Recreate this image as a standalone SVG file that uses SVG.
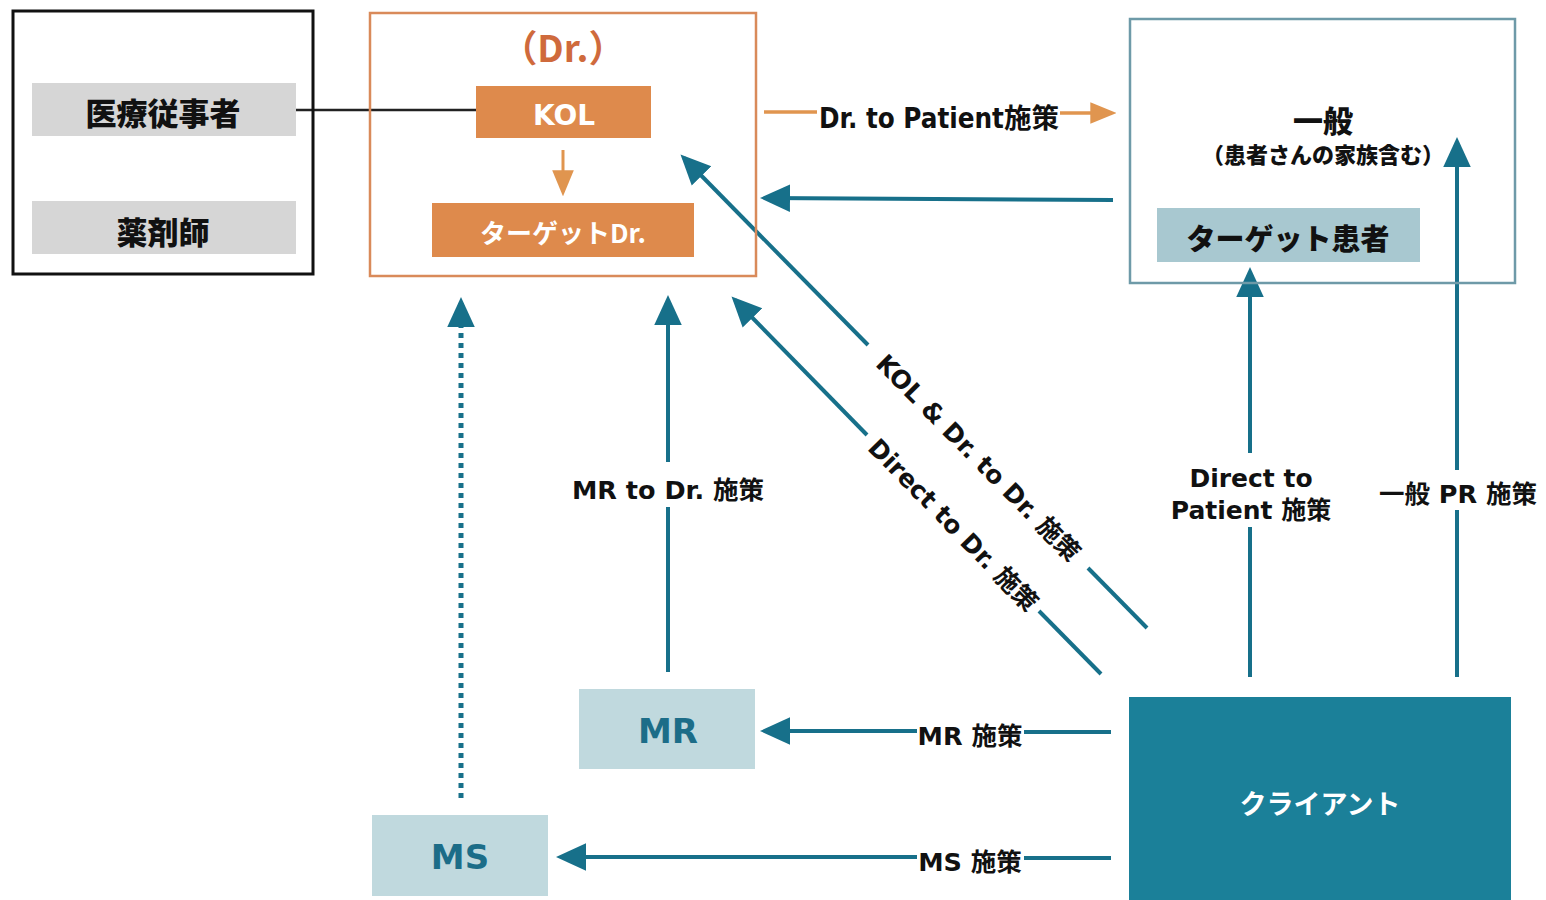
<svg xmlns="http://www.w3.org/2000/svg" width="1546" height="900" viewBox="0 0 1546 900">
<defs>
<style>
.lbl{font-family:"DejaVu Sans","Noto Sans CJK JP",sans-serif;font-weight:bold;fill:#111;text-anchor:middle;dominant-baseline:central}
.jp{font-family:"Noto Sans CJK JP",sans-serif;font-weight:900;text-anchor:middle;dominant-baseline:central}
.teal{stroke:#17708a;stroke-width:4;fill:none}
.tealh{stroke:#17708a;stroke-width:4;fill:none;marker-end:url(#ah)}
.gray{fill:#d6d6d6}
.org{fill:#de8a4c}
</style>
<marker id="ah" markerUnits="userSpaceOnUse" markerWidth="30" markerHeight="30" viewBox="0 0 24 24" refX="20" refY="12" orient="auto">
<path d="M0,1 L24,12 L0,23 Z" fill="#17708a"/>
</marker>
<marker id="aho" markerUnits="userSpaceOnUse" markerWidth="26" markerHeight="26" viewBox="0 0 24 24" refX="20" refY="12" orient="auto">
<path d="M0,2 L24,12 L0,22 Z" fill="#e0954f"/>
</marker>
</defs>
<rect width="1546" height="900" fill="#ffffff"/>

<g id="connectors">
<line x1="296" y1="110" x2="477" y2="110" stroke="#222" stroke-width="2.5"/>
<line x1="563" y1="150" x2="563" y2="192" stroke="#e0954f" stroke-width="3" marker-end="url(#aho)"/>
<line x1="764" y1="112" x2="817" y2="112" stroke="#e0954f" stroke-width="3.5"/>
<line x1="1060" y1="113" x2="1112" y2="113" stroke="#e0954f" stroke-width="3.5" marker-end="url(#aho)"/>
<line x1="1113" y1="200" x2="765" y2="198" class="tealh"/>
<line x1="1147" y1="628" x2="1088" y2="568" class="teal"/>
<line x1="868" y1="345" x2="684" y2="158" class="tealh"/>
<line x1="1101" y1="674" x2="1039" y2="611" class="teal"/>
<line x1="867" y1="435" x2="735" y2="300" class="tealh"/>
<line x1="668" y1="672" x2="668" y2="507" class="teal"/>
<line x1="668" y1="462" x2="668" y2="300" class="tealh"/>
<line x1="461" y1="798" x2="461" y2="302" stroke="#17708a" stroke-width="5" stroke-dasharray="5 5" marker-end="url(#ah)"/>
<line x1="1250" y1="677" x2="1250" y2="527" class="teal"/>
<line x1="1250" y1="453" x2="1250" y2="272" class="tealh"/>
<line x1="1457" y1="677" x2="1457" y2="510" class="teal"/>
<line x1="1457" y1="470" x2="1457" y2="142" class="tealh"/>
<line x1="1111" y1="732" x2="1024" y2="732" class="teal"/>
<line x1="917" y1="731" x2="765" y2="731" class="tealh"/>
<line x1="1111" y1="858" x2="1024" y2="858" class="teal"/>
<line x1="917" y1="857" x2="561" y2="857" class="tealh"/>
<text class="lbl" x="939" y="118" style="font-family:'DejaVu Sans Condensed','DejaVu Sans','Noto Sans CJK JP',sans-serif;font-stretch:condensed" font-size="27.5">Dr. to Patient施策</text>
<text class="lbl" x="978" y="458" font-size="25" transform="rotate(45.42 978 458)">KOL &amp; Dr. to Dr. 施策</text>
<text class="lbl" x="953" y="525" font-size="25" transform="rotate(45.62 953 525)">Direct to Dr. 施策</text>
<text class="lbl" x="668" y="490" font-size="25.5">MR to Dr. 施策</text>
<text class="lbl" x="1251" y="478" font-size="25">Direct to</text>
<text class="lbl" x="1251" y="510" font-size="25">Patient 施策</text>
<text class="lbl" x="1458" y="494" font-size="25.5">一般 PR 施策</text>
<text class="lbl" x="970" y="736" font-size="25.5">MR 施策</text>
<text class="lbl" x="970" y="862" font-size="25.5">MS 施策</text>
</g>

<g id="hcp-group">
<rect x="13" y="11" width="300" height="263" fill="none" stroke="#111" stroke-width="3"/>
</g>
<g id="iryo">
<rect x="32" y="83" width="264" height="53" class="gray"/>
<text class="jp" x="163" y="111" font-size="31" fill="#111">医療従事者</text>
</g>
<g id="yakuzaishi">
<rect x="32" y="201" width="264" height="53" class="gray"/>
<text class="jp" x="163" y="230" font-size="31" fill="#111">薬剤師</text>
</g>

<g id="dr-group">
<rect x="370" y="13" width="386" height="263" fill="none" stroke="#d98a5a" stroke-width="2.5"/>
<text class="jp" x="563" y="46" font-size="37" fill="#cf6a3c" style="font-weight:bold">（Dr.）</text>
</g>
<g id="kol">
<rect x="476" y="86" width="175" height="52" class="org"/>
<text class="lbl" x="564" y="115" font-size="28" style="fill:#fff">KOL</text>
</g>
<g id="target-dr">
<rect x="432" y="203" width="262" height="54" class="org"/>
<text class="jp" x="563" y="231" font-size="26" fill="#fff" style="font-weight:bold">ターゲットDr.</text>
</g>

<g id="general">
<rect x="1130" y="19" width="385" height="264" fill="none" stroke="#6e9aa8" stroke-width="2.5"/>
<text class="jp" x="1323" y="119" font-size="30" fill="#111">一般</text>
<text class="jp" x="1323" y="153" font-size="22" fill="#111">（患者さんの家族含む）</text>
</g>
<g id="target-patient">
<rect x="1157" y="208" width="263" height="54" fill="#a8c8d0"/>
<text class="jp" x="1288" y="237" font-size="29" fill="#111">ターゲット患者</text>
</g>

<g id="mr">
<rect x="579" y="689" width="176" height="80" fill="#c0d9de"/>
<text class="lbl" x="668" y="731" font-size="34" style="fill:#1c6d88">MR</text>
</g>
<g id="ms">
<rect x="372" y="815" width="176" height="81" fill="#c0d9de"/>
<text class="lbl" x="460" y="857" font-size="34" style="fill:#1c6d88">MS</text>
</g>
<g id="client">
<rect x="1129" y="697" width="382" height="203" fill="#1b8099"/>
<text class="jp" x="1320" y="802" font-size="27" fill="#fff" style="font-weight:bold">クライアント</text>
</g>
</svg>
